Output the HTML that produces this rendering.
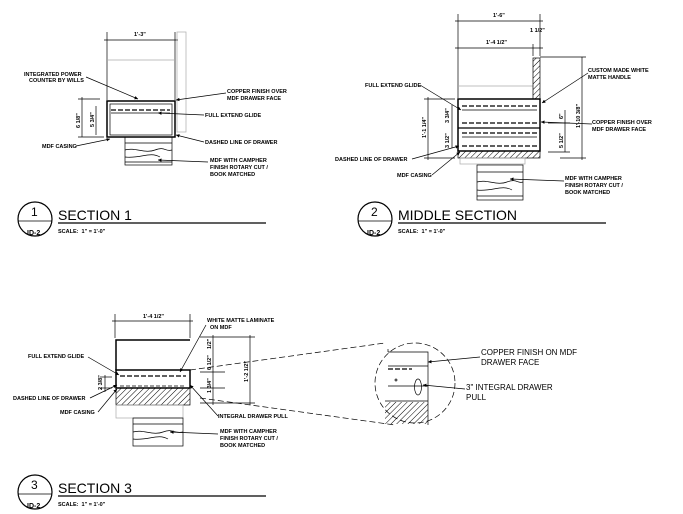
<!DOCTYPE html>
<html><head><style>
body{margin:0;background:#fff}
svg{display:block}
text{font-family:"Liberation Sans",sans-serif;font-weight:bold;font-size:5.5px;fill:#000}
.t{font-weight:normal;font-size:14px}
.n{font-weight:normal;font-size:12px}
</style></head><body>
<svg width="683" height="514" viewBox="0 0 683 514" xmlns="http://www.w3.org/2000/svg">
<defs>
<pattern id="h" width="4" height="4" patternUnits="userSpaceOnUse" patternTransform="rotate(45)"><line x1="0" y1="0" x2="0" y2="4" stroke="#000" stroke-width="1"/></pattern>
<marker id="a" viewBox="0 0 6 6" refX="6" refY="3" markerWidth="5" markerHeight="5" orient="auto"><path d="M0,0L6,3L0,6z"/></marker>
</defs>
<g stroke="#000" fill="none" stroke-width="0.7">
<!-- SECTION 1 -->
<line x1="107" y1="32" x2="107" y2="100"/><line x1="175" y1="32" x2="175" y2="100"/>
<line x1="104" y1="40" x2="178" y2="40"/>
<line x1="107" y1="60" x2="175" y2="60" stroke="#aaa"/>
<rect x="177" y="32" width="9" height="100" stroke="#aaa"/>
<rect x="107" y="101" width="68" height="36" stroke-width="1.5"/>
<rect x="110" y="104" width="62" height="31"/>
<line x1="111" y1="110" x2="170" y2="110" stroke-dasharray="5,2" stroke-width="1.2"/>
<line x1="111" y1="113" x2="170" y2="113"/>
<rect x="125" y="137" width="47" height="28"/>
<path d="M125,143h47M125,150c10,-3 20,4 30,0s10,2 17,0M125,157c15,2 25,-6 35,0M125,162h47"/>
<line x1="82" y1="97" x2="82" y2="137"/><line x1="96" y1="106" x2="96" y2="135"/>
<line x1="78" y1="99" x2="100" y2="99"/><line x1="78" y1="137" x2="104" y2="137"/>
<line x1="86" y1="77" x2="138" y2="99" marker-end="url(#a)"/>
<line x1="226" y1="93" x2="176" y2="100" marker-end="url(#a)"/>
<line x1="204" y1="115" x2="158" y2="113" marker-end="url(#a)"/>
<line x1="204" y1="142" x2="176" y2="135" marker-end="url(#a)"/>
<line x1="76" y1="146" x2="110" y2="139" marker-end="url(#a)"/>
<line x1="208" y1="162" x2="158" y2="160" marker-end="url(#a)"/>
<!-- SECTION 2 -->
<line x1="458" y1="14" x2="458" y2="98"/><line x1="540" y1="14" x2="540" y2="56"/><line x1="533" y1="44" x2="533" y2="56"/>
<line x1="455" y1="21" x2="543" y2="21"/><line x1="455" y1="48" x2="543" y2="48"/>
<line x1="458" y1="86" x2="533" y2="86" stroke="#aaa"/>
<rect x="533" y="58" width="7" height="41" fill="url(#h)"/>
<rect x="458" y="99" width="82" height="52" stroke-width="1.5"/>
<line x1="458" y1="128" x2="540" y2="128" stroke-width="1.2"/>
<line x1="462" y1="106" x2="537" y2="106" stroke-dasharray="5,2" stroke-width="1.2"/>
<line x1="462" y1="110" x2="537" y2="110"/>
<line x1="462" y1="123" x2="537" y2="123" stroke-dasharray="5,2" stroke-width="1.2"/>
<line x1="462" y1="133" x2="537" y2="133" stroke-dasharray="5,2" stroke-width="1.2"/>
<line x1="462" y1="137" x2="537" y2="137"/>
<line x1="462" y1="146" x2="537" y2="146" stroke-dasharray="5,2" stroke-width="1.2"/>
<rect x="458" y="151" width="82" height="7" fill="url(#h)"/>
<rect x="460" y="158" width="65" height="6" stroke="#aaa"/>
<rect x="477" y="165" width="46" height="35"/>
<path d="M477,172h46M477,182c10,-3 20,4 30,0s10,2 16,0M477,190c15,2 25,-6 35,0M477,196h46"/>
<line x1="428" y1="97" x2="428" y2="160"/><line x1="452" y1="105" x2="452" y2="148"/>
<line x1="565" y1="110" x2="565" y2="152"/><line x1="582" y1="57" x2="582" y2="160"/>
<line x1="424" y1="99" x2="455" y2="99"/><line x1="424" y1="158" x2="455" y2="158"/>
<line x1="548" y1="123" x2="570" y2="123"/><line x1="548" y1="152" x2="570" y2="152"/>
<line x1="540" y1="57" x2="586" y2="57"/><line x1="560" y1="158" x2="586" y2="158"/>
<line x1="588" y1="73" x2="542" y2="103" marker-end="url(#a)"/>
<line x1="420" y1="85" x2="461" y2="110" marker-end="url(#a)"/>
<line x1="592" y1="124" x2="541" y2="122" marker-end="url(#a)"/>
<line x1="412" y1="159" x2="459" y2="146" marker-end="url(#a)"/>
<line x1="432" y1="175" x2="460" y2="152" marker-end="url(#a)"/>
<line x1="564" y1="181" x2="510" y2="179" marker-end="url(#a)"/>
<!-- SECTION 3 -->
<line x1="115" y1="314" x2="115" y2="338"/><line x1="190" y1="314" x2="190" y2="338"/>
<line x1="112" y1="321" x2="193" y2="321"/>
<path d="M190,340H116V370" stroke-width="1.5"/>
<rect x="116" y="370" width="74" height="18" stroke-width="1.5"/>
<line x1="120" y1="376" x2="186" y2="376" stroke-dasharray="5,2" stroke-width="1.2"/>
<line x1="120" y1="386" x2="186" y2="386" stroke-dasharray="4,2"/>
<rect x="116" y="388" width="74" height="17" fill="url(#h)"/>
<rect x="116" y="405" width="67" height="13" stroke="#aaa"/>
<rect x="133" y="418" width="50" height="28"/>
<path d="M133,424h50M133,432c10,-3 20,4 30,0s10,2 20,0M133,439c15,2 25,-6 35,0"/>
<line x1="200" y1="337" x2="255" y2="337"/><line x1="200" y1="372" x2="225" y2="372"/><line x1="200" y1="388" x2="225" y2="388"/><line x1="200" y1="403" x2="255" y2="403"/>
<line x1="213" y1="335" x2="213" y2="405"/><line x1="250" y1="335" x2="250" y2="405"/>
<line x1="105" y1="375" x2="105" y2="392"/><line x1="100" y1="377" x2="112" y2="377"/><line x1="100" y1="388" x2="112" y2="388"/>
<line x1="190" y1="370" x2="385" y2="343" stroke-dasharray="6,3"/>
<line x1="200" y1="398" x2="395" y2="425" stroke-dasharray="6,3"/>
<circle cx="415" cy="383" r="40" stroke-dasharray="6,3"/>
<path d="M388,352H428V425M388,366h40M388,386h40M385,401h43M388,352v-3"/>
<line x1="388" y1="369" x2="412" y2="369" stroke-dasharray="5,2" stroke-width="1.2"/>
<ellipse cx="418" cy="387" rx="3.5" ry="8"/><circle cx="396" cy="380" r="1"/>
<path d="M385,402h43v22l-43,0z" fill="url(#h)" stroke="none"/>
<line x1="88" y1="357" x2="119" y2="375" marker-end="url(#a)"/>
<line x1="90" y1="398" x2="117" y2="385" marker-end="url(#a)"/>
<line x1="98" y1="412" x2="117" y2="389" marker-end="url(#a)"/>
<line x1="206" y1="325" x2="180" y2="372" marker-end="url(#a)"/>
<line x1="218" y1="416" x2="190" y2="385" marker-end="url(#a)"/>
<line x1="218" y1="434" x2="170" y2="432" marker-end="url(#a)"/>
<line x1="480" y1="357" x2="428" y2="362" marker-end="url(#a)"/>
<line x1="465" y1="389" x2="423" y2="385" marker-end="url(#a)"/>
<!-- titles -->
<circle cx="35" cy="219" r="17" stroke-width="1.2"/><line x1="18" y1="221" x2="52" y2="221"/>
<line x1="58" y1="223" x2="266" y2="223" stroke-width="1.3"/>
<circle cx="375" cy="219" r="17" stroke-width="1.2"/><line x1="358" y1="221" x2="392" y2="221"/>
<line x1="398" y1="223" x2="606" y2="223" stroke-width="1.3"/>
<circle cx="35" cy="492" r="17" stroke-width="1.2"/><line x1="18" y1="494" x2="52" y2="494"/>
<line x1="58" y1="496" x2="266" y2="496" stroke-width="1.3"/>
</g>
<!-- text section 1 -->
<text x="134" y="36">1'-3"</text>
<text x="24" y="76">INTEGRATED POWER</text><text x="29" y="82">COUNTER BY WILLS</text>
<text x="227" y="93">COPPER FINISH OVER</text><text x="227" y="100">MDF DRAWER FACE</text>
<text x="205" y="117">FULL EXTEND GLIDE</text>
<text x="205" y="144">DASHED LINE OF DRAWER</text>
<text x="42" y="148">MDF CASING</text>
<text x="210" y="162">MDF WITH CAMPHER</text><text x="210" y="169">FINISH ROTARY CUT /</text><text x="210" y="176">BOOK MATCHED</text>
<text transform="translate(80,128) rotate(-90)">6 1/8"</text>
<text transform="translate(94,127) rotate(-90)">5 3/4"</text>
<text class="n" x="31" y="216">1</text><text x="27" y="235" style="font-size:7px">ID-2</text>
<text class="t" x="58" y="220">SECTION 1</text>
<text x="58" y="233">SCALE:&#160;&#160;1" = 1'-0"</text>
<!-- text section 2 -->
<text x="493" y="17">1'-6"</text>
<text x="530" y="32">1 1/2"</text>
<text x="486" y="44">1'-4 1/2"</text>
<text x="588" y="72">CUSTOM MADE WHITE</text><text x="588" y="79">MATTE HANDLE</text>
<text x="365" y="87">FULL EXTEND GLIDE</text>
<text x="592" y="124">COPPER FINISH OVER</text><text x="592" y="131">MDF DRAWER FACE</text>
<text x="335" y="161">DASHED LINE OF DRAWER</text>
<text x="397" y="177">MDF CASING</text>
<text x="565" y="180">MDF WITH CAMPHER</text><text x="565" y="187">FINISH ROTARY CUT /</text><text x="565" y="194">BOOK MATCHED</text>
<text transform="translate(426,138) rotate(-90)">1'-1 1/4"</text>
<text transform="translate(449,123) rotate(-90)">3 3/4"</text>
<text transform="translate(449,148) rotate(-90)">3 1/2"</text>
<text transform="translate(563,119) rotate(-90)">6"</text>
<text transform="translate(563,148) rotate(-90)">5 1/2"</text>
<text transform="translate(580,128) rotate(-90)">1'-10 3/8"</text>
<text class="n" x="371" y="216">2</text><text x="367" y="235" style="font-size:7px">ID-2</text>
<text class="t" x="398" y="220">MIDDLE SECTION</text>
<text x="398" y="233">SCALE:&#160;&#160;1" = 1'-0"</text>
<!-- text section 3 -->
<text x="143" y="318">1'-4 1/2"</text>
<text x="207" y="322">WHITE MATTE LAMINATE</text><text x="210" y="329">ON MDF</text>
<text x="28" y="358">FULL EXTEND GLIDE</text>
<text x="13" y="400">DASHED LINE OF DRAWER</text>
<text x="60" y="414">MDF CASING</text>
<text x="218" y="418">INTEGRAL DRAWER PULL</text>
<text x="220" y="433">MDF WITH CAMPHER</text><text x="220" y="440">FINISH ROTARY CUT /</text><text x="220" y="447">BOOK MATCHED</text>
<text transform="translate(102,390) rotate(-90)">2 3/8"</text>
<text transform="translate(211,349) rotate(-90)">1/2"</text>
<text transform="translate(211,370) rotate(-90)">6 1/2"</text>
<text transform="translate(211,393) rotate(-90)">1 3/4"</text>
<text transform="translate(248,382) rotate(-90)">1'-2 1/2"</text>
<text x="481" y="355" style="font-weight:normal;font-size:8px">COPPER FINISH ON MDF</text>
<text x="481" y="365" style="font-weight:normal;font-size:8px">DRAWER FACE</text>
<text x="466" y="390" style="font-weight:normal;font-size:8px">3" INTEGRAL DRAWER</text>
<text x="466" y="400" style="font-weight:normal;font-size:8px">PULL</text>
<text class="n" x="31" y="489">3</text><text x="27" y="508" style="font-size:7px">ID-2</text>
<text class="t" x="58" y="493">SECTION 3</text>
<text x="58" y="506">SCALE:&#160;&#160;1" = 1'-0"</text>
</svg>
</body></html>
